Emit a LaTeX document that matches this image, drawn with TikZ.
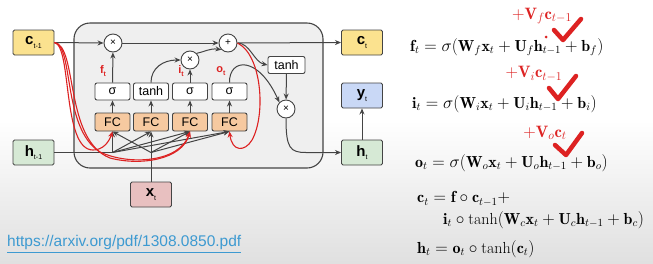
\documentclass[tikz,border=0pt]{standalone}
\usepackage{fontspec}
\usepackage{amsmath}
\usetikzlibrary{arrows.meta}
\newfontfamily\lab{Liberation Sans}
\definecolor{bggray}{HTML}{E0E0E0}
\definecolor{cyell}{HTML}{FBE28F}
\definecolor{hgreen}{HTML}{D6E9D5}
\definecolor{yblue}{HTML}{C9D8F6}
\definecolor{xpink}{HTML}{E8C0C0}
\definecolor{fcor}{HTML}{F6C9A0}
\definecolor{cellfill}{HTML}{EFEFEF}
\definecolor{linecol}{HTML}{444444}
\definecolor{redc}{HTML}{DD2222}
\definecolor{linkblue}{HTML}{3D9AD1}
\newcommand{\sublab}[2]{\textbf{#1}\raisebox{-3.5pt}{\fontsize{7}{7}\selectfont #2}}
\begin{document}
\begin{tikzpicture}[x=1pt,y=-1pt,
  iobox/.style={draw=linecol,line width=0.9pt,rounded corners=1.5pt,minimum width=41pt,minimum height=25pt,inner sep=0pt,font=\lab\fontsize{15}{15}\selectfont},
  gbox/.style={draw=linecol,line width=0.9pt,rounded corners=2pt,minimum width=35pt,minimum height=17pt,inner sep=0pt,fill=white,font=\lab\fontsize{12.5}{12.5}\selectfont},
  fcbox/.style={gbox,fill=fcor,minimum height=18pt},
  op/.style={circle,draw=linecol,line width=0.9pt,fill=white,minimum size=18pt,inner sep=0pt,font=\lab\fontsize{10}{10}\selectfont},
  cellbox/.style={draw=linecol,line width=1.1pt,fill=cellfill,rounded corners=16pt,minimum width=249pt,minimum height=145pt},
  wire/.style={draw=linecol,line width=1pt},
  arr/.style={wire,-{Stealth[length=6pt,width=5pt]}},
  rarr/.style={draw=redc,line width=1.1pt,-{Stealth[length=6pt,width=5pt]}},
  glab/.style={text=redc,font=\lab\bfseries\fontsize{11}{11}\selectfont,inner sep=0pt},
  eq/.style={anchor=west,inner sep=0pt,font=\fontsize{16}{18}\selectfont},
  req/.style={anchor=center,inner sep=0pt,text=redc,font=\fontsize{16.5}{18}\selectfont},
  chk/.style={draw=redc,line width=4.5pt,line cap=round,line join=round}
]
\useasboundingbox (0,0) rectangle (653,263);
\fill[white] (0,0) rectangle (653,263);
\shade[top color=white,bottom color=bggray] (0,120) rectangle (653,263);

% cell
\node[cellbox] (cell) at (198.5,95.5) {};

% io boxes
\node[iobox,fill=cyell] (cprev) at (33.5,42.5) {\sublab{c}{t-1}};
\node[iobox,fill=hgreen] (hprev) at (33.5,152.5) {\sublab{h}{t-1}};
\node[iobox,fill=cyell] (ct) at (362,42.5) {\sublab{c}{t}};
\node[iobox,fill=yblue] (yt) at (362,95.5) {\sublab{y}{t}};
\node[iobox,fill=hgreen] (ht) at (362,152.5) {\sublab{h}{t}};
\node[iobox,fill=xpink] (xt) at (151,194.5) {\sublab{x}{t}};

% operators
\node[op] (fx) at (113,43) {×};
\node[op] (plus) at (228,43) {+};
\node[op] (xin) at (190,60) {×};
\node[op] (xout) at (286,109) {×};
\node[gbox,minimum width=37pt] (tout) at (286.5,65) {tanh};

% gates
\node[gbox] (s1) at (112.5,91.5) {σ};
\node[gbox] (s2) at (151,91.5) {tanh};
\node[gbox] (s3) at (190,91.5) {σ};
\node[gbox] (s4) at (229.5,91.5) {σ};
\node[fcbox] (fc1) at (112.5,122) {FC};
\node[fcbox] (fc2) at (151,122) {FC};
\node[fcbox] (fc3) at (190,122) {FC};
\node[fcbox] (fc4) at (229.5,122) {FC};

% gate labels
\node[glab] (lf) at (103,71) {f\raisebox{-3pt}{\fontsize{7}{7}\selectfont t}};
\node[glab] (li) at (181,71) {i\raisebox{-3pt}{\fontsize{7}{7}\selectfont t}};
\node[glab] (lo) at (221,71) {o\raisebox{-3pt}{\fontsize{7}{7}\selectfont t}};

% cell state path
\draw[arr] (cprev.east) -- (fx.west);
\draw[arr] (fx.east) -- (plus.west);
\draw[arr] (plus.east) -- (ct.west);

% gate to ops
\draw[arr] (fc1) -- (s1);
\draw[arr] (fc2) -- (s2);
\draw[arr] (fc3) -- (s3);
\draw[arr] (fc4) -- (s4);
\draw[arr] (s1) -- (fx);
\draw[arr] (s3) -- (xin);
\draw[arr] (s2.north) .. controls (151,68) and (163,60) .. (xin.west);
\draw[arr] (xin.north east) .. controls (204,52) and (210,48) .. (plus.south west);
\draw[arr] (plus.east) .. controls (250,43) and (254,62) .. (tout.west);
\draw[arr] (tout) -- (xout);
\draw[arr] (s4.north) .. controls (229,58) and (258,55) .. (xout.north west);
\draw[arr] (xout.south) .. controls (286,148) and (290,152.5) .. (306,152.5) -- (ht.west);
\draw[arr] (ht) -- (yt);

% inputs fan
\coordinate (hj) at (112.5,152.5);
\coordinate (xj) at (151,152.5);
\draw[wire] (hprev.east) -- (hj);
\draw[wire] (xt.north) -- (xj);
\foreach \f in {fc1,fc2,fc3,fc4}{
  \draw[arr] (hj) -- (\f.south);
  \draw[arr] (xj) -- (\f.south);
}

% peephole (red)
\draw[rarr] (cprev.east) .. controls (72,46) and (62,150) .. (93,150) .. controls (103,150) and (109,142) .. (fc1.south);
\draw[rarr] (cprev.east) .. controls (74,46) and (62,128) .. (100,152) .. controls (130,166) and (180,162) .. (fc3.south);
\draw[rarr] (cprev.east) .. controls (78,46) and (64,140) .. (110,158) .. controls (140,166) and (182,160) .. (fc3.south);
\draw[rarr] (plus.east) .. controls (262,55) and (266,115) .. (252,140) .. controls (245,152) and (232,152) .. (fc4.south);

% equations
\node[eq] (ef) at (410,47) {$\mathbf{f}_t=\sigma(\mathbf{W}_{f}\mathbf{x}_t+\mathbf{U}_{f}\mathbf{h}_{t-1}+\mathbf{b}_f)$};
\node[eq] (ei) at (412,104) {$\mathbf{i}_t=\sigma(\mathbf{W}_{i}\mathbf{x}_t+\mathbf{U}_{i}\mathbf{h}_{t-1}+\mathbf{b}_i)$};
\node[eq] (eo) at (415,163) {$\mathbf{o}_t=\sigma(\mathbf{W}_{o}\mathbf{x}_t+\mathbf{U}_{o}\mathbf{h}_{t-1}+\mathbf{b}_o)$};
\node[eq] (ec1) at (417,199) {$\mathbf{c}_t=\mathbf{f}\circ\mathbf{c}_{t-1}+$};
\node[eq] (ec2) at (443,220) {$\mathbf{i}_t\circ\tanh(\mathbf{W}_{c}\mathbf{x}_t+\mathbf{U}_{c}\mathbf{h}_{t-1}+\mathbf{b}_c)$};
\node[eq] (eh) at (417,249) {$\mathbf{h}_t=\mathbf{o}_t\circ\tanh(\mathbf{c}_t)$};

% red additions
\node[req] (rf) at (542,16) {$+\mathbf{V}_{f}\mathbf{c}_{t-1}$};
\node[req] (ri) at (534,74) {$+\mathbf{V}_{i}\mathbf{c}_{t-1}$};
\node[req] (ro) at (545,133) {$+\mathbf{V}_{o}\mathbf{c}_{t}$};
\draw[chk] (554,30) -- (563,40) -- (581,19);
\draw[chk] (549,88) -- (558,99) -- (576,76);
\draw[chk] (555,145) -- (566,155) -- (582,133);
\fill[redc] (546,37) circle (1.5);

% link
\node[anchor=west,inner sep=0pt,text=linkblue,font=\lab\fontsize{15.5}{15.5}\selectfont] (link) at (7,244) {\underline{https://arxiv.org/pdf/1308.0850.pdf}};
\end{tikzpicture}
\end{document}
